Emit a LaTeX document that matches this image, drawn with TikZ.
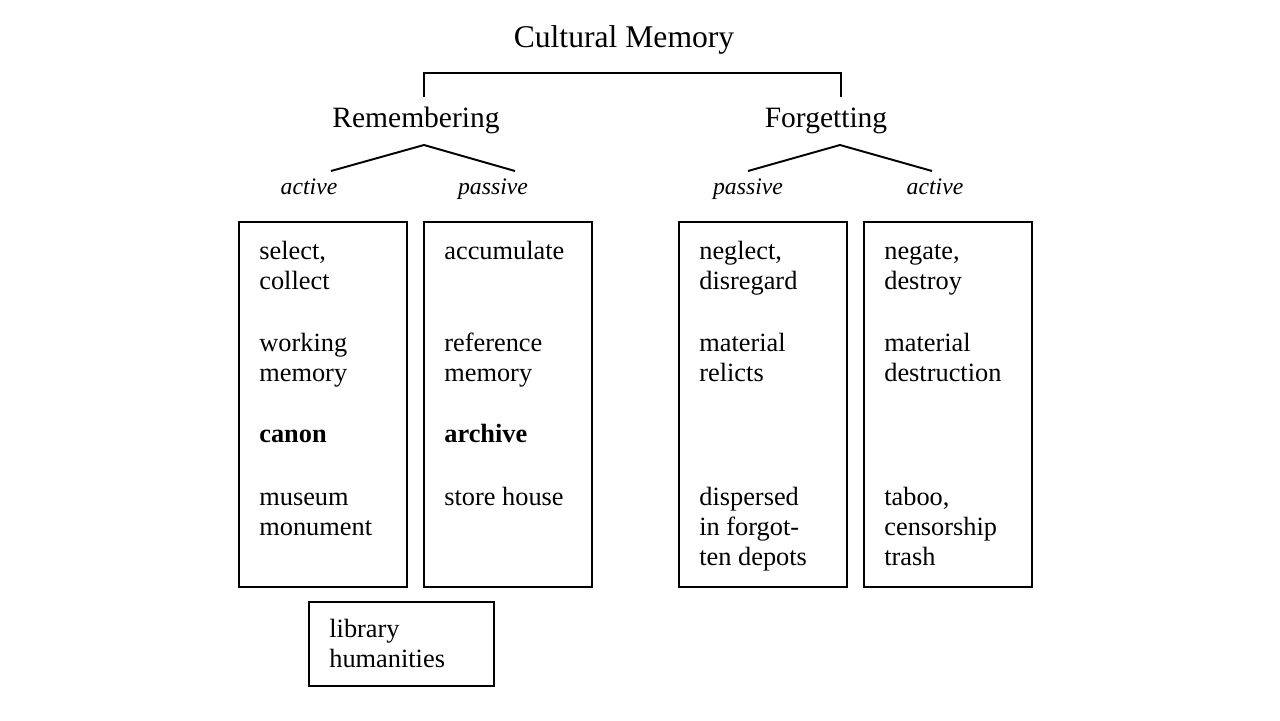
\documentclass[tikz,border=0pt]{standalone}
\usepackage{fontspec}
\setmainfont{Liberation Serif}
\usetikzlibrary{positioning}

\begin{document}
\begin{tikzpicture}[
  x=0.02cm, y=-0.02cm,
  title/.style={anchor=base,font=\fontsize{18}{20}\selectfont,inner sep=0pt},
  branch/.style={anchor=base,font=\fontsize{16.8}{19}\selectfont,inner sep=0pt},
  mode/.style={anchor=base,font=\fontsize{13.5}{15}\selectfont\itshape,inner sep=0pt},
  panel/.style={draw,line width=1.1pt,minimum width=3.36cm,minimum height=7.3cm,inner sep=0pt},
  entry/.style={anchor=base west,align=left,inner sep=0pt,
                font=\fontsize{15}{17}\selectfont},
  link/.style={line width=1.1pt}
]
\useasboundingbox (0,0) rectangle (1280,720);

% headings (placed on their baselines)
\node[title]  (cm)   at (624,47)  {Cultural Memory};
\node[branch] (rem)  at (416,127) {Remembering};
\node[branch] (forg) at (826,127) {Forgetting};

\coordinate (remtop)  at (424,97);
\coordinate (forgtop) at (841,97);
\coordinate (remfork)  at (424,145);
\coordinate (forgfork) at (840,145);
\coordinate (ra) at (331,171);
\coordinate (rp) at (515,171);
\coordinate (fp) at (748,171);
\coordinate (fa) at (932,171);

\node[mode] (ract)  at (309,194) {active};
\node[mode] (rpas)  at (493,194) {passive};
\node[mode] (fpas)  at (748,194) {passive};
\node[mode] (fact)  at (935,194) {active};

\draw[link] (remtop) -- ++(0,-24) -| (forgtop);
\draw[link] (ra) -- (remfork) -- (rp);
\draw[link] (fp) -- (forgfork) -- (fa);

% the four columns
\node[panel] (box1) at (323,404.5) {};
\node[panel] (box2) at (508,404.5) {};
\node[panel] (box3) at (763,404.5) {};
\node[panel] (box4) at (948,404.5) {};
\node[panel,minimum width=3.7cm,minimum height=1.68cm] (box5) at (401.5,644) {};

% entries sit on the baseline of their last line
% remembering, active
\node[entry] (r1) at (259,289) {select,\\collect};
\node[entry] (r2) at (259,381) {working\\memory};
\node[entry] (r3) at (259,442) {\textbf{canon}};
\node[entry] (r4) at (259,535) {museum\\monument};

% remembering, passive
\node[entry] (p1) at (444,259) {accumulate};
\node[entry] (p2) at (444,381) {reference\\memory};
\node[entry] (p3) at (444,442) {\textbf{archive}};
\node[entry] (p4) at (444,505) {store house};

% forgetting, passive
\node[entry] (n1) at (699,289) {neglect,\\disregard};
\node[entry] (n2) at (699,381) {material\\relicts};
\node[entry] (n3) at (699,565) {dispersed\\in forgot-\\ten depots};

% forgetting, active
\node[entry] (d1) at (884,289) {negate,\\destroy};
\node[entry] (d2) at (884,381) {material\\destruction};
\node[entry] (d3) at (884,565) {taboo,\\censorship\\trash};

\node[entry] (lib) at (329,667) {library\\humanities};
\end{tikzpicture}
\end{document}
